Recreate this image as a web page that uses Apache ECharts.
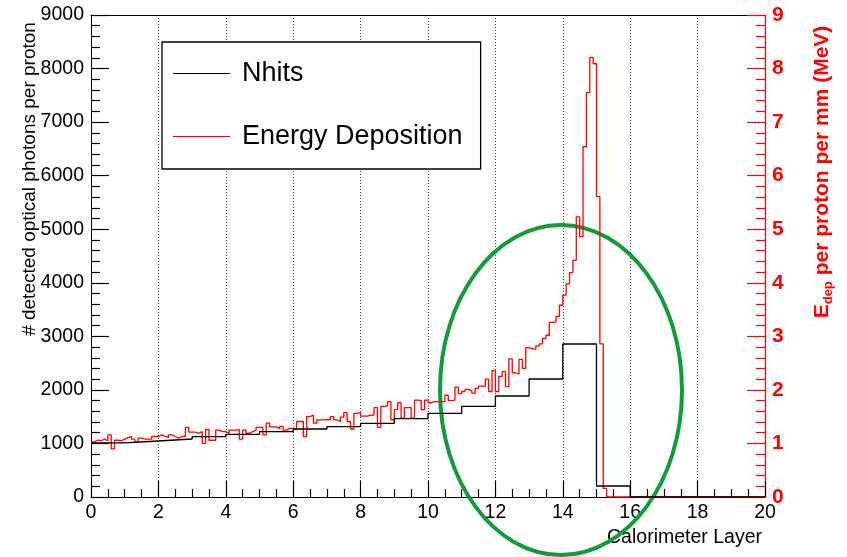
<!DOCTYPE html>
<html>
<head>
<meta charset="utf-8">
<script src="https://cdn.jsdelivr.net/npm/echarts@6/dist/echarts.min.js"></script>
<style>html,body{margin:0;padding:0;background:#fff;}#c{width:847px;height:557px;}</style>
</head>
<body>
<div id="c"></div>
<script>
// Nhits per calorimeter layer (bin width 1, layers 0..15)
const nhitsLayers = [0,1,2,3,4,5,6,7,8,9,10,11,12,13,14,15];
const nhits = [1010,1046,1083,1127,1170,1220,1270,1313,1376,1463,1563,1693,1886,2203,2857,205];
// Energy deposition (MeV per proton per mm), bins of 0.1 layer starting at 0
const edepBinWidth = 0.1;
const edep = [
 1.03,1.06,1.05,1.08,1.05,1.16,0.90,1.06,1.05,1.08,
 1.11,1.13,1.08,1.03,1.10,1.08,1.08,1.08,1.13,1.13,
 1.16,1.13,1.11,1.16,1.13,1.10,1.13,1.13,1.30,1.21,
 1.21,1.19,1.22,1.00,1.26,1.06,1.06,1.25,1.22,1.22,
 1.19,1.25,1.25,1.26,1.08,1.25,1.19,1.22,1.25,1.30,
 1.30,1.16,1.38,1.31,1.31,1.28,1.32,1.25,1.28,1.28,
 1.26,1.41,1.41,1.13,1.50,1.53,1.38,1.44,1.44,1.45,
 1.44,1.50,1.44,1.41,1.49,1.575,1.41,1.27,1.56,1.575,
 1.51,1.51,1.53,1.53,1.67,1.30,1.69,1.70,1.78,1.44,
 1.63,1.76,1.47,1.67,1.67,1.47,1.81,1.80,1.63,1.81,
 1.76,1.78,1.78,1.78,1.78,1.90,1.80,1.81,2.05,1.93,
 1.97,2.01,1.98,1.94,2.03,2.07,2.07,2.20,1.97,2.36,
 1.97,2.25,2.34,2.06,2.58,2.32,2.30,2.57,2.40,2.79,
 2.76,2.76,2.82,2.86,2.96,3.02,3.26,3.27,3.37,3.58,
 3.77,3.98,4.19,4.42,5.23,4.86,6.54,7.55,8.21,8.09,
 5.61,2.86,0.16
];
const xRange = [0, 20];
const seriesNames = ['Nhits', 'Energy Deposition'];
const xTitle = 'Calorimeter Layer';
const yLeftTitle = '# detected optical photons per proton';

// build step-histogram point lists from bin lower edges
const nhitsData = [];
for (let i = 0; i < xRange[1]; i++) {
  const idx = nhitsLayers.indexOf(i);
  nhitsData.push([i, idx >= 0 ? nhits[idx] : 0]);
}
nhitsData.push([xRange[1], 0]);
const edepData = [];
const nEdepBins = Math.round(xRange[1] / edepBinWidth);
for (let i = 0; i < nEdepBins; i++) {
  edepData.push([+(i * edepBinWidth).toFixed(2), i < edep.length ? edep[i] : 0]);
}
edepData.push([xRange[1], 0]);

const FONT = '"Liberation Sans", Arial, Helvetica, sans-serif';
const plain = v => String(v);
const tickStyle = c => ({color: c, width: 1.2, type: 'solid', opacity: 1});
const chart = echarts.init(document.getElementById('c'), null, {renderer: 'canvas'});
chart.setOption({
  animation: false,
  backgroundColor: '#fff',
  grid: {left: 91, right: 82, top: 15, bottom: 60, show: false},
  legend: {
    orient: 'vertical', left: 162, top: 42,
    padding: [18, 18, 19, 11],
    itemGap: 36, itemWidth: 57, itemHeight: 14,
    borderColor: '#000', borderWidth: 1.3, backgroundColor: '#fff',
    textStyle: {fontFamily: FONT, fontSize: 27, color: '#000', padding: [0, 0, 0, 7]},
    data: seriesNames.map(n => ({name: n, icon: 'path://M0,0 L57,0 L57,1 L0,1 Z'})),
    itemStyle: {borderWidth: 0}
  },
  xAxis: [{
    type: 'value', min: xRange[0], max: xRange[1], interval: 2, position: 'bottom',
    axisLine: {show: true, onZero: false, lineStyle: {color: '#000', width: 1}},
    axisTick: {show: true, inside: true, length: 16, lineStyle: tickStyle('#000')},
    minorTick: {show: true, splitNumber: 4, length: 8, lineStyle: tickStyle('#000')},
    splitLine: {show: true, lineStyle: {type: [1, 2], color: '#444', width: 1}},
    axisLabel: {fontFamily: FONT, fontSize: 19.5, color: '#000', margin: 6, formatter: plain}
  }, {
    type: 'value', min: xRange[0], max: xRange[1], interval: 2, position: 'top',
    axisLine: {show: true, onZero: false, lineStyle: {color: '#000', width: 1}},
    axisTick: {show: false}, minorTick: {show: false},
    splitLine: {show: false}, axisLabel: {show: false}
  }],
  yAxis: [{
    type: 'value', min: 0, max: 9000, interval: 1000, position: 'left',
    axisLine: {show: true, onZero: false, lineStyle: {color: '#000', width: 1}},
    axisTick: {show: true, inside: false, length: -18, lineStyle: tickStyle('#000')},
    minorTick: {show: true, splitNumber: 5, length: -9, lineStyle: tickStyle('#000')},
    splitLine: {show: false},
    axisLabel: {fontFamily: FONT, fontSize: 19.5, color: '#000', margin: 7, formatter: plain}
  }, {
    type: 'value', min: 0, max: 9, interval: 1, position: 'right',
    axisLine: {show: true, onZero: false, lineStyle: {color: '#ff0000', width: 1.2}},
    axisTick: {show: true, inside: false, length: -18, lineStyle: tickStyle('#ff0000')},
    minorTick: {show: true, splitNumber: 5, length: -9, lineStyle: tickStyle('#ff0000')},
    splitLine: {show: false},
    axisLabel: {fontFamily: FONT, fontSize: 21, fontWeight: 'bold', color: '#ff0000', margin: 7, formatter: plain}
  }],
  series: [{
    name: seriesNames[1], type: 'line', step: 'end', yAxisIndex: 1,
    data: edepData, symbol: 'none', showSymbol: false,
    lineStyle: {color: '#ff0000', width: 1.3}, itemStyle: {color: '#ff0000'}, z: 3
  }, {
    name: seriesNames[0], type: 'line', step: 'end', yAxisIndex: 0,
    data: nhitsData, symbol: 'none', showSymbol: false,
    lineStyle: {color: '#000', width: 1.3}, itemStyle: {color: '#000'}, z: 4
  }],
  graphic: [{
    type: 'text', x: 30, y: 179, rotation: Math.PI / 2,
    style: {text: yLeftTitle, font: '19px ' + FONT, fill: '#000', align: 'center', verticalAlign: 'middle'}
  }, {
    type: 'text', x: 762, y: 538,
    style: {text: xTitle, font: '19.5px ' + FONT, fill: '#000', align: 'right', verticalAlign: 'middle'}
  }, {
    type: 'text', x: 822, y: 172, rotation: Math.PI / 2,
    style: {
      text: '{a|E}{s|dep}{a| per proton per mm (MeV)}',
      align: 'center', verticalAlign: 'middle',
      rich: {
        a: {fontFamily: FONT, fontSize: 21, fontWeight: 'bold', fill: '#ff0000', color: '#ff0000'},
        s: {fontFamily: FONT, fontSize: 13, fontWeight: 'bold', fill: '#ff0000', color: '#ff0000', padding: [12, 0, 0, 0]}
      }
    }
  }, {
    type: 'ellipse', z: 2,
    shape: {cx: 561, cy: 390, rx: 121, ry: 165},
    style: {fill: 'none', stroke: '#119b3a', lineWidth: 4}
  }]
});
</script>
</body>
</html>
